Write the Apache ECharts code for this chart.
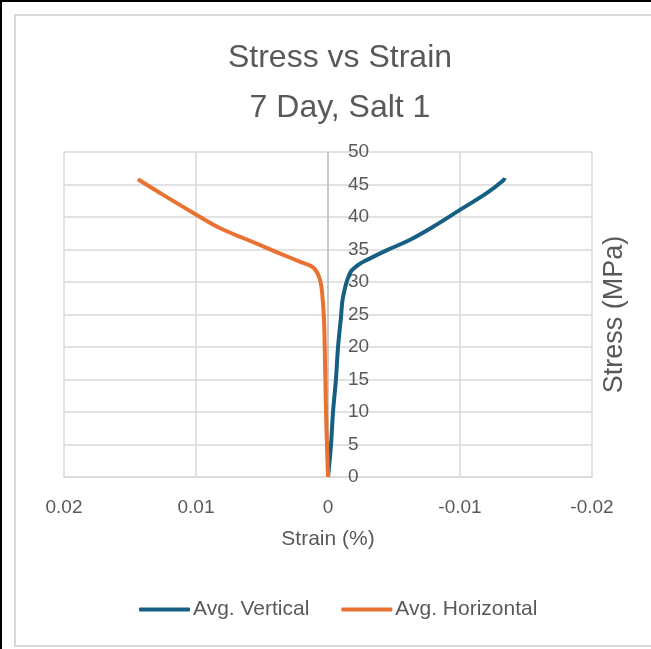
<!DOCTYPE html>
<html>
<head>
<meta charset="utf-8">
<script src="https://cdn.jsdelivr.net/npm/echarts@6/dist/echarts.min.js"></script>
<style>
  html, body { margin: 0; padding: 0; background: #fff; }
  #wrap { position: relative; width: 651px; height: 649px; overflow: hidden; }
  #edge { position: absolute; left: 0; top: 0; width: 700px; height: 700px; border-top: 2px solid #000; border-left: 2px solid #000; box-sizing: border-box; }
  #frame { position: absolute; left: 14px; top: 14px; width: 700px; height: 633px; border: 2px solid #d9d9d9; box-sizing: border-box; }
  #chart { position: absolute; left: 0; top: 0; width: 651px; height: 649px; }
</style>
</head>
<body>
<div id="wrap">
  <div id="edge"></div>
  <div id="frame"></div>
  <div id="chart"></div>
</div>
<script>
// Avg. Vertical (strain %, stress MPa)
const verticalStrain = [0, -0.00023, -0.00038, -0.0006, -0.00076, -0.00098, -0.00114, -0.00167, -0.00227, -0.00296, -0.00447, -0.00622, -0.00796, -0.0100, -0.01205, -0.01327, -0.01338];
const verticalStress = [0, 5, 10, 15, 20, 24.5, 27.7, 31.4, 32.6, 33.4, 34.9, 36.5, 38.5, 41.1, 43.7, 45.6, 46.0];

// Avg. Horizontal
const horizontalStrain = [0, 0.00008, 0.00015, 0.0002, 0.00025, 0.0003, 0.0004, 0.0006, 0.0011, 0.0021, 0.0039, 0.0061, 0.0082, 0.0101, 0.01273, 0.0144];
const horizontalStress = [0, 5, 10, 15, 20, 24, 27.2, 30.3, 32.2, 33.1, 34.6, 36.5, 38.3, 40.5, 43.7, 45.8];

const pairs = (xs, ys) => xs.map((x, i) => [x, ys[i]]);

const font = "Liberation Sans";
const textColor = "#595959";
const gridColor = "#d9d9d9";

const chart = echarts.init(document.getElementById("chart"));
const option = {
  animation: false,
  textStyle: { fontFamily: font, color: textColor },
  title: {
    text: "Stress vs Strain\n7 Day, Salt 1",
    left: 335,
    top: 28,
    textAlign: "center",
    textStyle: {
      fontFamily: font,
      fontSize: 32,
      fontWeight: "normal",
      color: textColor,
      lineHeight: 50,
    },
  },
  legend: {
    bottom: 24,
    left: 134,
    orient: "horizontal",
    icon: "roundRect",
    itemWidth: 51,
    itemHeight: 4,
    itemGap: 32,
    textStyle: { fontFamily: font, fontSize: 21, color: textColor, padding: [0, 0, 0, -2] },
    data: ["Avg. Vertical", "Avg. Horizontal"],
  },
  grid: {
    left: 64,
    right: 59,
    top: 152,
    bottom: 172,
  },
  xAxis: {
    type: "value",
    inverse: true,
    min: -0.02,
    max: 0.02,
    interval: 0.01,
    name: "Strain (%)",
    nameLocation: "middle",
    nameGap: 52,
    nameTextStyle: { fontFamily: font, fontSize: 21, color: textColor },
    axisLine: { onZero: false, lineStyle: { color: gridColor, width: 1.5 } },
    axisTick: { show: false },
    axisLabel: {
      fontFamily: font,
      fontSize: 19,
      color: textColor,
      margin: 21,
      formatter: (v) => String(+v.toFixed(2)),
    },
    splitLine: { lineStyle: { color: gridColor, width: 1.5 } },
  },
  yAxis: [
    {
      // sits on strain = 0, labels to its right
      type: "value",
      min: 0,
      max: 50,
      interval: 5,
      position: "right",
      offset: -264,
      axisLine: { show: true, onZero: false, lineStyle: { color: "#bfbfbf", width: 1.5 } },
      axisTick: { show: false },
      axisLabel: { fontFamily: font, fontSize: 19, color: textColor, margin: 20 },
      splitLine: { lineStyle: { color: gridColor, width: 1.5 } },
    },
    {
      type: "value",
      min: 0,
      max: 50,
      position: "right",
      name: "Stress (MPa)",
      nameLocation: "middle",
      nameRotate: 90,
      nameGap: 9,
      nameTextStyle: { fontFamily: font, fontSize: 27, color: textColor },
      axisLine: { show: false, onZero: false },
      axisTick: { show: false },
      axisLabel: { show: false },
      splitLine: { show: false },
    },
  ],
  series: [
    {
      name: "Avg. Vertical",
      type: "line",
      symbol: "none",
      smooth: 0.4,
      lineStyle: { color: "#156082", width: 4 },
      itemStyle: { color: "#156082" },
      data: pairs(verticalStrain, verticalStress),
    },
    {
      name: "Avg. Horizontal",
      type: "line",
      symbol: "none",
      smooth: 0.4,
      lineStyle: { color: "#E97132", width: 4 },
      itemStyle: { color: "#E97132" },
      data: pairs(horizontalStrain, horizontalStress),
    },
  ],
};
chart.setOption(option);
</script>
</body>
</html>
